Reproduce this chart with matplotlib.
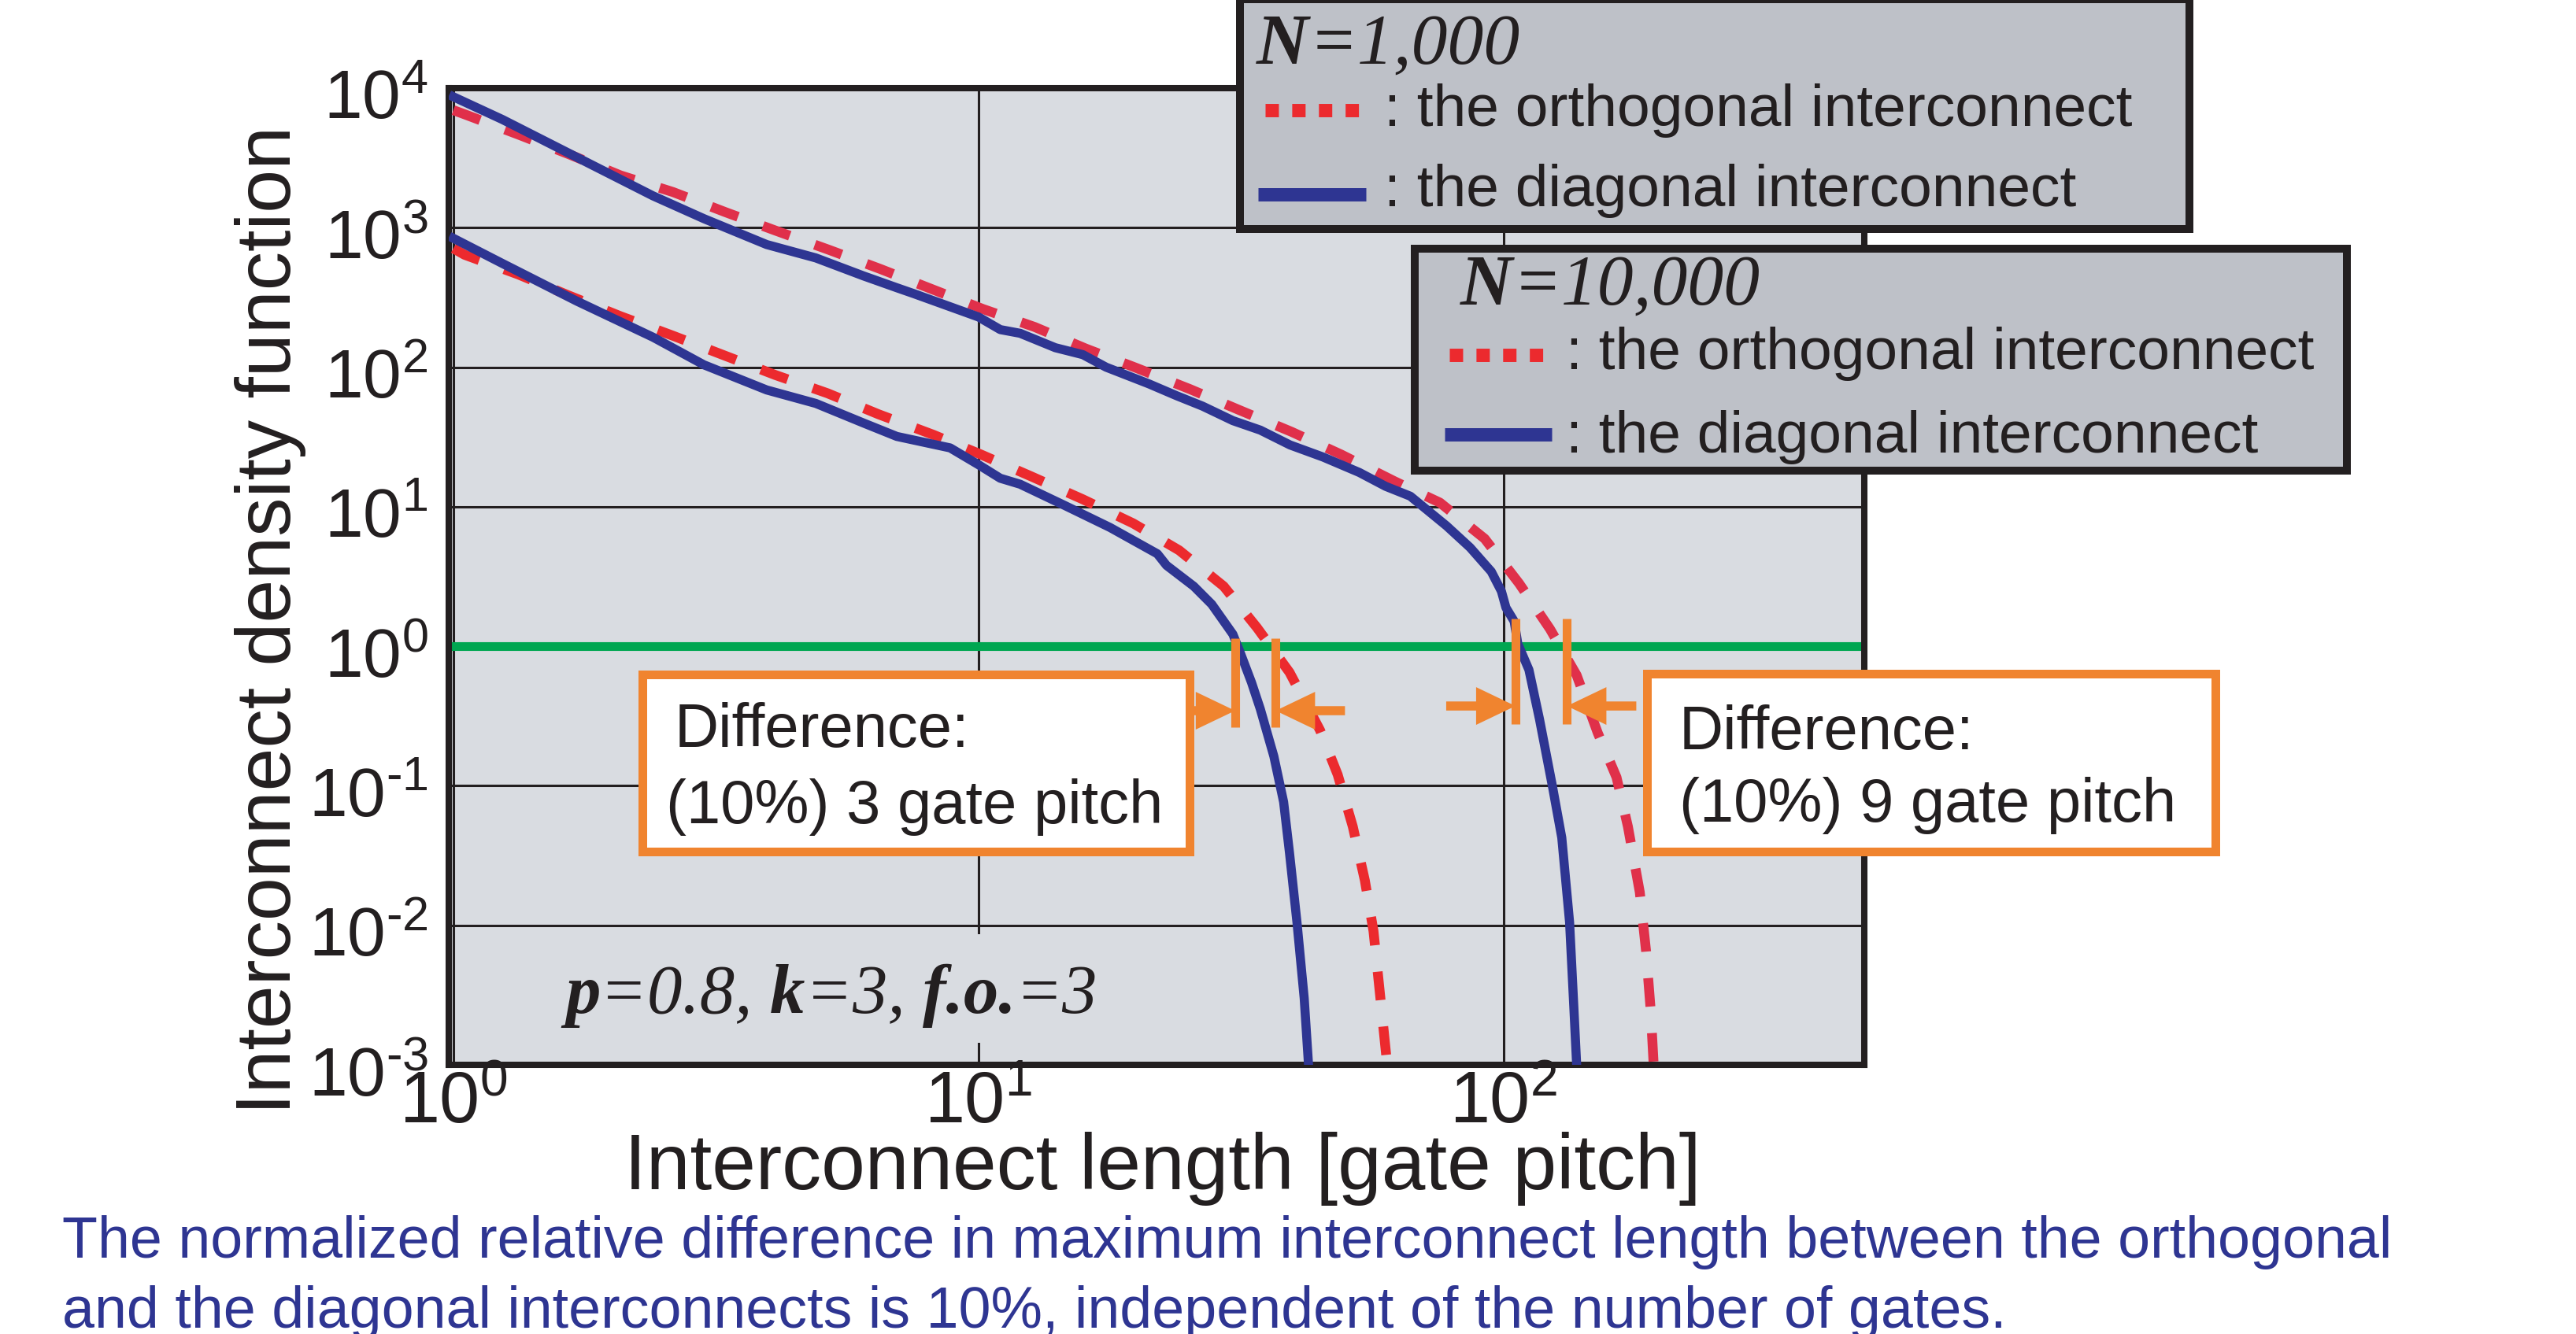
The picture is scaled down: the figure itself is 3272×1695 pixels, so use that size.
import numpy as np
import matplotlib
matplotlib.use('Agg')
import matplotlib.pyplot as plt
import matplotlib.transforms as mtransforms
from matplotlib.patches import Rectangle
from matplotlib.lines import Line2D
from matplotlib.text import Annotation
from matplotlib.ticker import FixedLocator, FuncFormatter, NullLocator

plt.rcParams['font.family'] = 'Liberation Sans'
plt.rcParams['mathtext.fontset'] = 'custom'
plt.rcParams['mathtext.rm'] = 'Liberation Sans'
plt.rcParams['mathtext.it'] = 'Liberation Sans:italic'
plt.rcParams['mathtext.bf'] = 'Liberation Sans:bold'
plt.rcParams['mathtext.default'] = 'regular'

# interconnect length [gate pitch] vs density, N = 1,000
len_diag_1k = [1.0, 1.24, 1.72, 2.40, 3.00, 3.95, 4.90, 6.04, 6.99, 7.54, 8.83, 10.0, 11.0, 12.0,
               14.6, 17.8, 21.9, 22.8, 25.7, 27.8, 30.5, 31.5, 33.1, 34.4, 36.5, 38.1, 39.1, 40.4,
               41.7, 42.5]
den_diag_1k = [839, 554, 297, 164, 104, 68.7, 55.0, 39.8, 31.9, 30.0, 26.4, 20.0, 16.0, 14.5,
               10.2, 7.1, 4.6, 3.8, 2.69, 2.0, 1.22, 0.90, 0.55, 0.355, 0.163, 0.0766, 0.033, 0.0105,
               0.003, 0.001]
len_orth_1k = [1.0, 1.05, 1.33, 1.66, 2.08, 2.62, 3.27, 4.10, 5.16, 6.45, 8.2, 10.1, 12.6, 15.8,
               19.7, 24.1, 29.3, 33.9, 39.1, 44.7, 48.3, 51.6, 54.4, 56.5, 58.0, 60.0]
den_orth_1k = [710, 640, 462, 326, 232, 168, 122, 88, 65, 46, 32.8, 23.7, 16.5, 11.3,
               7.6, 4.87, 2.69, 1.36, 0.65, 0.25, 0.12, 0.051, 0.021, 0.0091, 0.0035, 0.001]

# N = 10,000
len_diag_10k = [1.0, 1.24, 1.72, 2.40, 3.00, 3.95, 4.90, 6.04, 6.99, 7.54, 10.0, 11.0, 12.0, 14.0,
                15.8, 17.5, 21.1, 23.8, 26.7, 30.5, 34.4, 39.2, 45.3, 53.1, 59.6, 66.4, 77.8, 86.3,
                94.7, 99.0, 101, 104.7, 106.4, 111.7, 117, 123.9, 129, 133.5, 136, 137.7]
den_diag_10k = [8670, 5960, 3190, 1690, 1160, 757, 607, 451, 371, 336, 229, 186, 175, 138,
                123, 100, 76, 62.6, 52.6, 41.4, 35.4, 27.7, 22.7, 17.6, 14.0, 11.9, 7.3, 5.1,
                3.43, 2.48, 1.89, 1.51, 1.04, 0.678, 0.30, 0.098, 0.0425, 0.0105, 0.0026, 0.001]
len_orth_10k = [1.0, 1.05, 1.33, 1.66, 2.08, 2.62, 3.30, 4.10, 5.20, 6.50, 8.1, 10.2, 12.8, 16.0,
                20.0, 25.3, 31.5, 39.4, 49.0, 62.0, 75.6, 92.0, 107, 122.5, 137.7, 151, 164, 172.4,
                181.6, 186.7, 190.6, 193]
den_orth_10k = [6950, 6500, 4650, 3360, 2370, 1800, 1290, 955, 692, 506, 366, 261, 194, 136,
                98.6, 69.5, 49.0, 34.5, 23.7, 15.2, 10.7, 5.9, 2.82, 1.33, 0.62, 0.24, 0.115, 0.051,
                0.0173, 0.0065, 0.0024, 0.001]

# lengths where the curves drop through density 1 (diagonal, orthogonal)
cross_1k = [30.8, 36.8]
cross_10k = [105.3, 132.0]

x_decades = [0, 1, 2]
y_decades = [-3, -2, -1, 0, 1, 2, 3, 4]

dark = '#231f20'
blue = '#2e3592'
red_hi = '#e0304a'
red_lo = '#ec2a2e'
green = '#00a651'
orange = '#f0842f'
bg = '#d9dce1'
box_gray = '#bec1c8'

W, H = 3272, 1695
fig = plt.figure(figsize=(W / 100, H / 100), dpi=100)
ax = fig.add_axes([570 / W, 1 - 1353 / H, (2368 - 570) / W, (1353 - 112) / H])
ax.set_facecolor(bg)
ax.set_xscale('log')
ax.set_yscale('log')

ax.axhline(1.0, color=green, lw=8, zorder=2)

dash = (2.9, 2.7)
ax.plot(len_orth_10k, den_orth_10k, color=red_hi, lw=9, dashes=dash, dash_capstyle='butt', zorder=3)
ax.plot(len_orth_1k, den_orth_1k, color=red_lo, lw=9, dashes=dash, dash_capstyle='butt', zorder=3)
ax.plot(len_diag_10k, den_diag_10k, color=blue, lw=8.3, zorder=3.5)
ax.plot(len_diag_1k, den_diag_1k, color=blue, lw=8.3, zorder=3.5)

# difference markers and arrows
blend = mtransforms.blended_transform_factory(ax.transData, ax.transAxes)
arrow_style = 'simple,head_length=36,head_width=34.5,tail_width=8.3'
for xs, (y0, y1), ya in [(cross_1k, (0.3457, 0.4367), 0.3626),
                         (cross_10k, (0.3489, 0.4569), 0.3674)]:
    for xv in xs:
        ax.add_line(Line2D([xv, xv], [y0, y1], transform=blend, color=orange, lw=8,
                           solid_capstyle='butt', zorder=6))
    for xv, dx in [(xs[0], -88), (xs[1], 88)]:
        ax.annotate('', xy=(xv, ya), xycoords=blend, xytext=(dx, 0), textcoords='offset pixels',
                    arrowprops=dict(arrowstyle=arrow_style, mutation_scale=1, fc=orange,
                                    ec='none', shrinkA=0, shrinkB=0), zorder=5)

ax.set_xlim(0.98, 486)
ax.set_ylim(1e-3, 1e4)


def dec_label(v, pos):
    e = int(round(np.log10(v)))
    if e < 0:
        return r'$10^{\text{-}%d}$' % (-e)
    return r'$10^{%d}$' % e


ax.xaxis.set_major_locator(FixedLocator([10.0 ** e for e in x_decades]))
ax.yaxis.set_major_locator(FixedLocator([10.0 ** e for e in y_decades]))
ax.xaxis.set_minor_locator(NullLocator())
ax.yaxis.set_minor_locator(NullLocator())
ax.xaxis.set_major_formatter(FuncFormatter(dec_label))
ax.yaxis.set_major_formatter(FuncFormatter(dec_label))
ax.tick_params(axis='both', length=0, colors=dark)
ax.tick_params(axis='x', labelsize=66, pad=5)
ax.tick_params(axis='y', labelsize=63, pad=19)
ax.grid(True, which='major', color=dark, lw=2.2)
ax.set_axisbelow(True)
for s in ax.spines.values():
    s.set_linewidth(5.8)
    s.set_color(dark)
    s.set_capstyle('projecting')

shift = mtransforms.ScaledTranslation(0, -8 / 100, fig.dpi_scale_trans)
for lab in ax.get_yticklabels():
    lab.set_transform(lab.get_transform() + shift)

fig.text(1477 / W, 1 - 1511 / H, 'Interconnect length [gate pitch]', size=72, color=dark,
         ha='center', va='baseline')
fig.text(344 / W, 1 - 788 / H, 'Interconnect density function', size=71, color=dark,
         rotation=90, ha='center', va='center')


def px_box(x0, y0, x1, y1, fc, ec, lw_px, z=2):
    r = Rectangle((x0 / W, 1 - y1 / H), (x1 - x0) / W, (y1 - y0) / H, transform=fig.transFigure,
                  facecolor=fc, edgecolor=ec, lw=lw_px * 0.72, joinstyle='miter', zorder=z)
    fig.add_artist(r)


def px_line(x0, x1, y, **kw):
    fig.add_artist(Line2D([x0 / W, x1 / W], [1 - y / H] * 2, transform=fig.transFigure,
                          zorder=4, **kw))


def serif_run(x, y, parts, size):
    prev = fig.text(x / W, 1 - y / H, parts[0][0], family='Liberation Serif', style='italic',
                    weight=parts[0][1], size=size, color=dark, va='baseline', zorder=6)
    for s, w in parts[1:]:
        a = Annotation(s, xy=(1, 0), xycoords=prev, xytext=(0, 0), textcoords='offset points',
                       family='Liberation Serif', style='italic', weight=w, size=size,
                       color=dark, ha='left', va='bottom', zorder=6)
        fig.add_artist(a)
        prev = a


# legend boxes
px_box(1575, -1, 2781, 291, box_gray, dark, 10)
px_box(1797, 316, 2981, 598, box_gray, dark, 10)

serif_run(1596, 81, [('N', 'bold'), ('=1,000', 'normal')], 66)
px_line(1607, 1730, 140, color=red_lo, lw=12.2, dashes=(1, 1), dash_capstyle='butt')
px_line(1598, 1735, 247, color=blue, lw=12.2, solid_capstyle='butt')
fig.text(1758 / W, 1 - 160 / H, ': the orthogonal interconnect', size=54, color=dark,
         va='baseline', zorder=6)
fig.text(1758 / W, 1 - 262 / H, ': the diagonal interconnect', size=54, color=dark,
         va='baseline', zorder=6)

serif_run(1855, 387, [('N', 'bold'), ('=10,000', 'normal')], 66)
px_line(1841, 1961, 451, color=red_lo, lw=12.2, dashes=(1, 1), dash_capstyle='butt')
px_line(1835, 1971, 552, color=blue, lw=12.2, solid_capstyle='butt')
fig.text(1989 / W, 1 - 469 / H, ': the orthogonal interconnect', size=54, color=dark,
         va='baseline', zorder=6)
fig.text(1989 / W, 1 - 575 / H, ': the diagonal interconnect', size=54, color=dark,
         va='baseline', zorder=6)

# difference boxes
px_box(816, 857, 1511, 1082, 'white', orange, 11)
fig.text(857 / W, 1 - 949 / H, 'Difference:', size=56, color=dark, va='baseline', zorder=6)
fig.text(846 / W, 1 - 1046 / H, '(10%) 3 gate pitch', size=56, color=dark, va='baseline',
         zorder=6)
px_box(2092, 856, 2814, 1082, 'white', orange, 11)
fig.text(2133 / W, 1 - 952 / H, 'Difference:', size=56, color=dark, va='baseline', zorder=6)
fig.text(2133 / W, 1 - 1044 / H, '(10%) 9 gate pitch', size=56, color=dark, va='baseline',
         zorder=6)

# parameter note, on a patch that hides the grid behind it
px_box(700, 1187, 1450, 1325, bg, 'none', 0, z=1)
serif_run(718, 1287, [('p', 'bold'), ('=0.8, ', 'normal'), ('k', 'bold'), ('=3, ', 'normal'),
                      ('f.o.', 'bold'), ('=3', 'normal')], 64)

fig.text(79 / W, 1 - 1598 / H,
         'The normalized relative difference in maximum interconnect length between the orthogonal',
         size=53, color=blue, va='baseline')
fig.text(79 / W, 1 - 1687 / H,
         'and the diagonal interconnects is 10%, independent of the number of gates.',
         size=53, color=blue, va='baseline')

fig.savefig('out.png', dpi=100, facecolor='white')
